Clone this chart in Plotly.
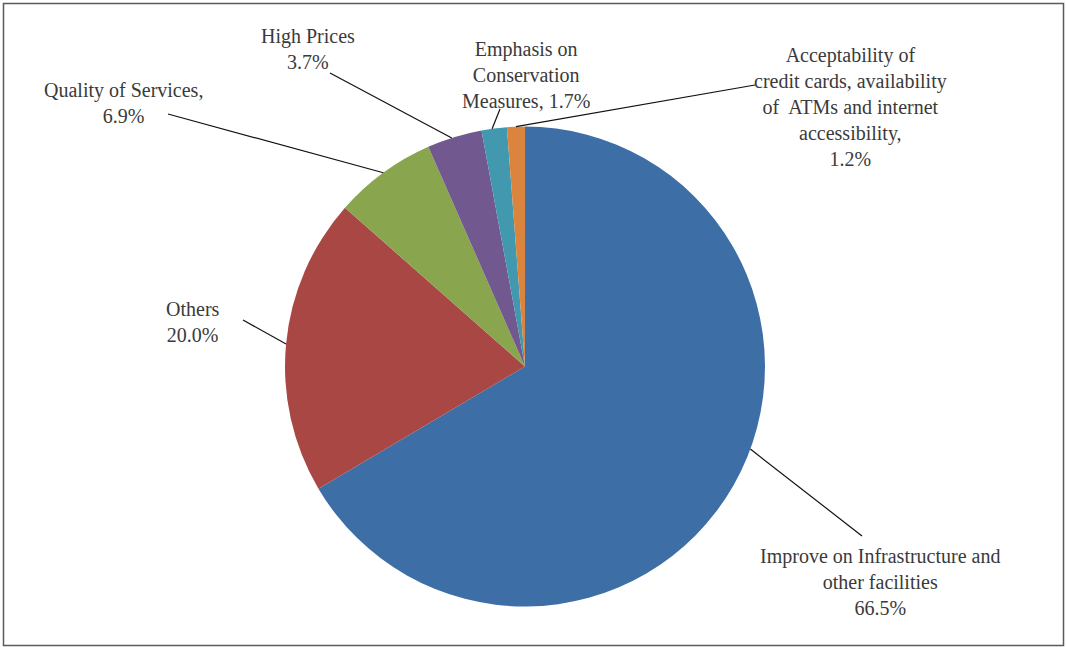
import math
import plotly.graph_objects as go

# ---- data ----
categories = [
    "Improve on Infrastructure and<br>other facilities",
    "Others",
    "Quality of Services,",
    "High Prices",
    "Emphasis on<br>Conservation<br>Measures,",
    "Acceptability of<br>credit cards, availability<br>of  ATMs and internet<br>accessibility,",
]
values = [66.5, 20.0, 6.9, 3.7, 1.7, 1.2]
label_sep = ["<br>", "<br>", "<br>", "<br>", " ", "<br>"]
colors = ["#3D6FA6", "#A84744", "#89A54E", "#71588F", "#4198AF", "#DB843D"]

# ---- layout parameters (pixels) ----
W, H = 1066, 647
CX, CY, R = 525, 366.5, 240
label_pos = [(880, 582), (193, 322), (123, 102.5), (308, 49.5), (525.5, 75), (850, 106.5)]
line_start = [(862, 536), (243, 320), (168, 114), (330, 73), (500, 109), (755, 85)]
anchor_frac = [0.46, 0.5, 0.5, 0.45, 0.42, 0.5]

FONT = "Liberation Serif, Tinos, Times New Roman, DejaVu Serif, serif"

def px(x):
    return x / W

def py(y):
    return 1 - y / H

fig = go.Figure(
    go.Pie(
        labels=[c.replace("<br>", " ") for c in categories],
        values=values,
        sort=False,
        direction="clockwise",
        rotation=0,
        marker=dict(colors=colors, line=dict(width=0)),
        textinfo="none",
        hoverinfo="label+percent",
        showlegend=False,
        domain=dict(x=[px(CX - R), px(CX + R)], y=[py(CY + R), py(CY - R)]),
    )
)

total = sum(values)
annotations = []
shapes = []
cum = 0.0
for i, v in enumerate(values):
    frac = (cum + anchor_frac[i] * v) / total
    ang = 2 * math.pi * frac
    ex = CX + R * math.sin(ang)
    ey = CY - R * math.cos(ang)
    cum += v
    sx, sy = line_start[i]
    shapes.append(dict(type="line", xref="paper", yref="paper",
                       x0=px(sx), y0=py(sy), x1=px(ex), y1=py(ey),
                       line=dict(color="#111111", width=1.2)))
    lx, ly = label_pos[i]
    annotations.append(dict(
        x=px(lx), y=py(ly), xref="paper", yref="paper",
        xanchor="center", yanchor="middle", align="center",
        showarrow=False,
        text=f"{categories[i]}{label_sep[i]}{v:.1f}%",
        font=dict(family=FONT, size=20, color="#3a3a3a"),
    ))

shapes.append(dict(type="rect", xref="paper", yref="paper",
                   x0=px(3.5), y0=py(645.5), x1=px(1063.5), y1=py(3.5),
                   line=dict(color="#5a5a5a", width=1.5)))

fig.update_layout(
    width=W, height=H,
    margin=dict(l=0, r=0, t=0, b=0),
    paper_bgcolor="white",
    plot_bgcolor="white",
    font=dict(family=FONT),
    annotations=annotations,
    shapes=shapes,
)

fig.write_html("out.html")
